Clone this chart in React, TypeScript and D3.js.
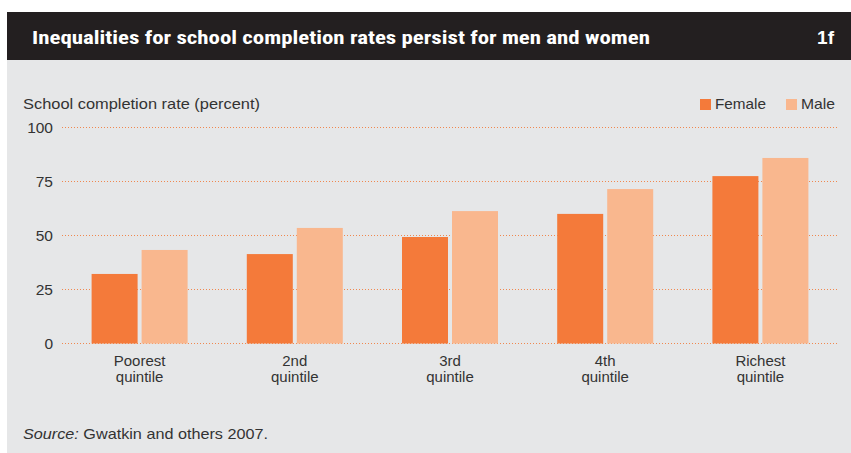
import React from "react";
import * as d3 from "d3";

const categories = ["Poorest|quintile", "2nd|quintile", "3rd|quintile", "4th|quintile", "Richest|quintile"];
const femaleValues = [32.2, 41.4, 49.3, 60.0, 77.5];
const maleValues = [43.3, 53.5, 61.3, 71.5, 85.9];
const yTicks = [0, 25, 50, 75, 100];
const seriesNames = ["Female", "Male"];
const seriesColors = ["#F47A3A", "#F9B78E"];

const W = 851;
const H = 453;

export default function App() {
  const x = d3.scaleBand<string>().domain(categories).range([62, 838]).padding(0);
  const y = d3.scaleLinear().domain([0, 100]).range([343.5, 127.5]);
  const font = "'Liberation Sans', Arial, sans-serif";
  const series = [femaleValues, maleValues];
  const barW = 46;
  const gap = 4;
  const legendX = [700, 786];
  const legendLen = [51, 34];

  return (
    <svg width={W} height={H} style={{ position: "absolute", left: 0, top: 0 }}>
      <rect x={0} y={0} width={W} height={H} fill="#ffffff" />
      <rect x={7} y={60} width={W - 7} height={H - 60} fill="#E6E7E8" />
      <rect x={7} y={12} width={W - 7} height={48} fill="#231F20" />
      <text
        x={32}
        y={44}
        fill="#ffffff"
        fontFamily="'Liberation Sans Narrow', 'Arial Narrow', 'Roboto Condensed', sans-serif"
        fontWeight="bold"
        fontSize={18}
        textLength={618}
        lengthAdjust="spacingAndGlyphs"
      >
        Inequalities for school completion rates persist for men and women
      </text>
      <text
        x={834}
        y={44}
        fill="#ffffff"
        fontFamily="'Liberation Sans Narrow', 'Arial Narrow', sans-serif"
        fontWeight="bold"
        fontSize={19}
        textAnchor="end"
      >
        1f
      </text>

      <text
        x={23}
        y={108.5}
        fill="#333"
        fontFamily={font}
        fontSize={15}
        textLength={237}
        lengthAdjust="spacingAndGlyphs"
      >
        School completion rate (percent)
      </text>

      {seriesNames.map((n, i) => {
        const lx = legendX[i];
        return (
          <g key={n}>
            <rect x={lx} y={99} width={11} height={11} fill={seriesColors[i]} />
            <text
              x={lx + 15}
              y={109}
              fill="#333"
              fontFamily={font}
              fontSize={15}
              textLength={legendLen[i]}
              lengthAdjust="spacingAndGlyphs"
            >
              {n}
            </text>
          </g>
        );
      })}

      {yTicks.map((t) => (
        <g key={t}>
          <line
            x1={62}
            x2={838}
            y1={y(t)}
            y2={y(t)}
            stroke="#F0884F"
            strokeWidth={1}
            strokeDasharray="1,2"
          />
          <text
            x={53}
            y={y(t) + 5}
            textAnchor="end"
            fill="#333"
            fontFamily={font}
            fontSize={15.5}
          >
            {t}
          </text>
        </g>
      ))}

      {categories.map((c, ci) => {
        const cx = (x(c) as number) + x.bandwidth() / 2;
        return (
          <g key={c}>
            {series.map((vals, si) => {
              const bx = si === 0 ? cx - gap / 2 - barW : cx + gap / 2;
              return (
                <rect
                  key={si}
                  x={bx}
                  y={y(vals[ci])}
                  width={barW}
                  height={y(0) - y(vals[ci])}
                  fill={seriesColors[si]}
                />
              );
            })}
            {c.split("|").map((line, li) => (
              <text
                key={li}
                x={cx}
                y={365.5 + li * 16}
                textAnchor="middle"
                fill="#333"
                fontFamily={font}
                fontSize={15}
              >
                {line}
              </text>
            ))}
          </g>
        );
      })}

      <text
        x={23}
        y={439}
        fill="#333"
        fontFamily={font}
        fontSize={15}
        textLength={245}
        lengthAdjust="spacingAndGlyphs"
      >
        <tspan fontStyle="italic">Source:</tspan> Gwatkin and others 2007.
      </text>
    </svg>
  );
}
